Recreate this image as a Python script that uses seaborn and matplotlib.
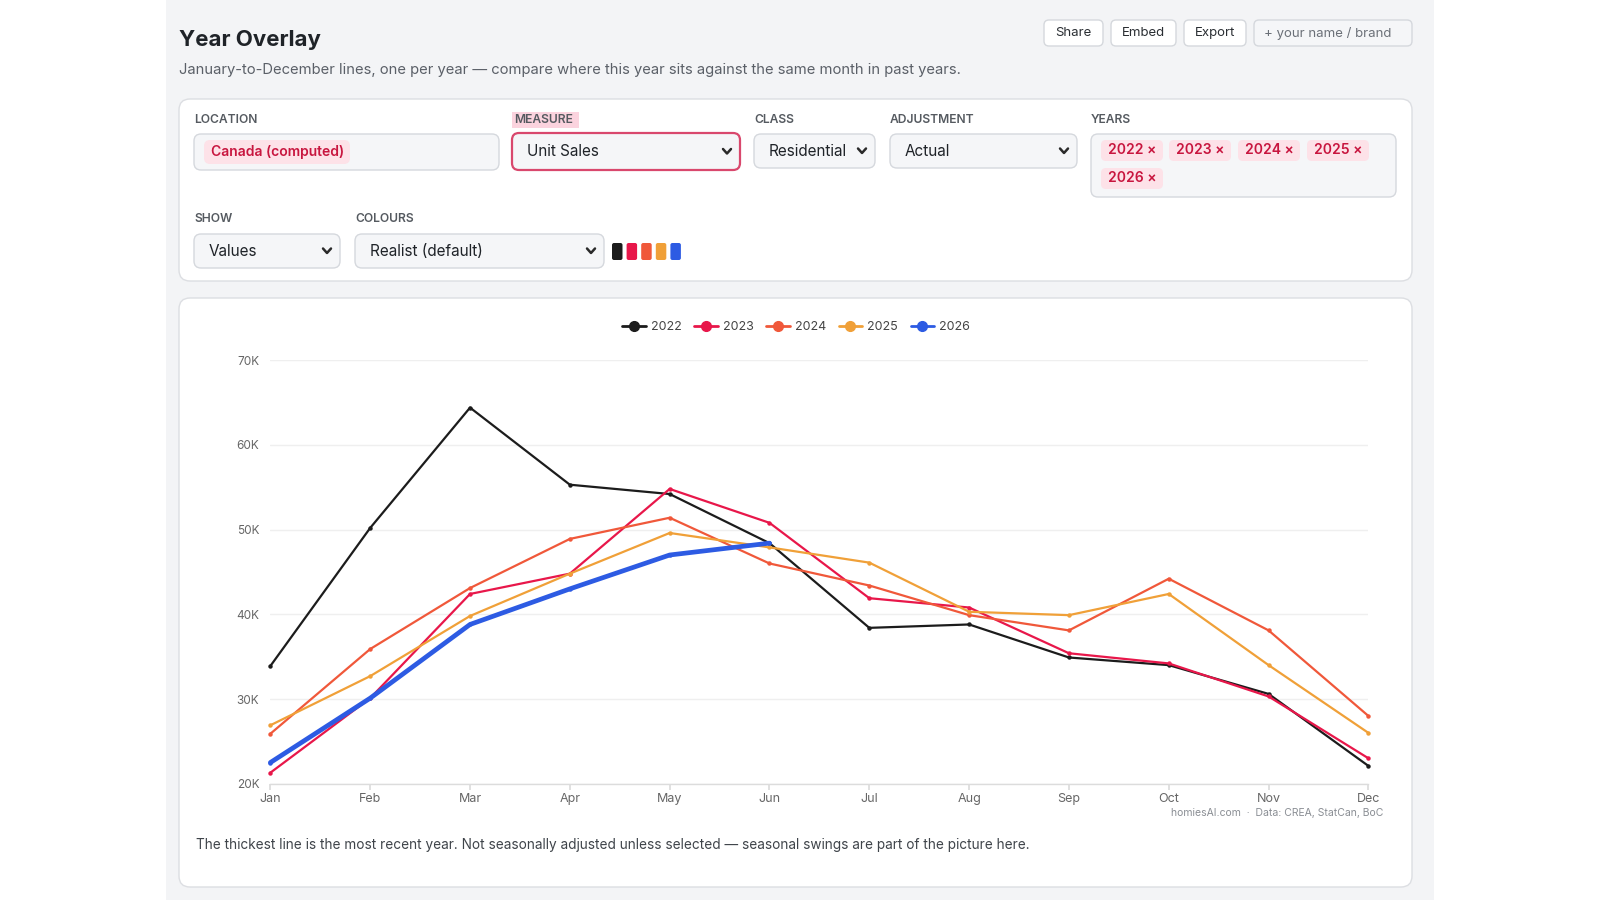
import matplotlib
matplotlib.use("Agg")
import matplotlib.pyplot as plt
import numpy as np
import pandas as pd
import seaborn as sns
from matplotlib.lines import Line2D
from matplotlib.patches import FancyBboxPatch, Rectangle
from matplotlib.ticker import FuncFormatter

# --- data (unit sales, Canada computed, residential, actual) ---
months = ["Jan", "Feb", "Mar", "Apr", "May", "Jun",
          "Jul", "Aug", "Sep", "Oct", "Nov", "Dec"]
years = ["2022", "2023", "2024", "2025", "2026"]
sales_2022 = [33900, 50200, 64400, 55300, 54200, 48400, 38400, 38800, 34900, 34000, 30600, 22100]
sales_2023 = [21300, 30100, 42400, 44800, 54800, 50800, 41900, 40800, 35400, 34200, 30300, 23000]
sales_2024 = [25900, 35900, 43100, 48900, 51400, 46000, 43400, 39900, 38100, 44200, 38100, 28000]
sales_2025 = [26900, 32700, 39800, 44800, 49600, 47900, 46100, 40300, 39900, 42400, 34000, 26000]
sales_2026 = [22500, 30100, 38800, 43000, 47000, 48400]
colors = ["#1c1c1c", "#e8174a", "#f0583a", "#f0a038", "#2d5be3"]
chips = ["2022", "2023", "2024", "2025"]

series = [sales_2022, sales_2023, sales_2024, sales_2025, sales_2026]
df = pd.concat(
    [pd.DataFrame({"month": np.arange(len(v)), "sales": v, "year": y})
     for y, v in zip(years, series)],
    ignore_index=True,
)

sns.set_theme(style="white")
plt.rcParams["font.family"] = ["Inter", "DejaVu Sans"]

fig = plt.figure(figsize=(16, 9), dpi=100)
fig.patch.set_facecolor("white")

# background layer in pixel coords (origin top-left)
bg = fig.add_axes([0, 0, 1, 1])
bg.set_xlim(0, 1600)
bg.set_ylim(900, 0)
bg.axis("off")

INK = "#1f2328"
MUTED = "#5b6068"
CRIMSON = "#c8163f"


def box(x0, y0, x1, y1, fc, ec, r=6, lw=1.0, z=1):
    bg.add_patch(FancyBboxPatch((x0, y0), x1 - x0, y1 - y0,
                                boxstyle=f"round,pad=0,rounding_size={r}",
                                fc=fc, ec=ec, lw=lw, zorder=z))


def chevron(x, y):
    bg.plot([x - 4, x, x + 4], [y - 2.5, y + 2, y - 2.5], color="#2a2a2a",
            lw=1.8, solid_capstyle="round", solid_joinstyle="round", zorder=5)


def select(x0, y0, x1, y1, text, ec="#d5d8dd", lw=1.0):
    box(x0, y0, x1, y1, "#f5f6f8", ec, r=7, lw=lw, z=2)
    bg.text(x0 + 15, (y0 + y1) / 2, text, fontsize=11, color=INK,
            va="center", ha="left", zorder=5)
    chevron(x1 - 13, (y0 + y1) / 2)


def label(x, y, text):
    bg.text(x, y, text, fontsize=8.7, color="#555a60", fontweight="semibold",
            va="center", ha="left", zorder=5)


# page panel
bg.add_patch(Rectangle((166, 0), 1268, 900, fc="#f3f4f6", ec="none", zorder=0))

# header
bg.text(179, 40, "Year Overlay", fontsize=16, fontweight="bold", color=INK,
        va="center", ha="left")
bg.text(179, 70, "January-to-December lines, one per year \u2014 compare where this "
        "year sits against the same month in past years.",
        fontsize=10.65, color=MUTED, va="center", ha="left")

for x0, x1, t in [(1044, 1103, "Share"), (1111, 1176, "Embed"), (1184, 1246, "Export")]:
    box(x0, 20, x1, 46, "white", "#d5d8dd", r=5)
    bg.text((x0 + x1) / 2, 33, t, fontsize=9.5, color="#2a2e33", va="center",
            ha="center", zorder=5)
box(1254, 20, 1412, 46, "#f5f6f8", "#d5d8dd", r=5)
bg.text(1264, 33, "+ your name / brand", fontsize=9.5, color="#6b7078",
        va="center", ha="left", zorder=5)

# controls card
box(179, 99, 1412, 281, "white", "#dcdee2", r=11)

label(194, 120, "LOCATION")
bg.add_patch(Rectangle((512, 112), 67, 16, fc="#fbd3de", ec="none", zorder=3))
label(514, 120, "MEASURE")
label(754, 120, "CLASS")
label(890, 120, "ADJUSTMENT")
label(1091, 120, "YEARS")

box(194, 134, 499, 170, "#f5f6f8", "#d5d8dd", r=7, z=2)
box(204, 140, 350, 164, "#fde2e8", "none", r=6, z=3)
bg.text(211, 152, "Canada (computed)", fontsize=10, color=CRIMSON,
        fontweight="semibold", va="center", ha="left", zorder=5)

select(512, 133, 740, 170, "Unit Sales", ec="#d9486d", lw=1.6)
select(754, 134, 875, 168, "Residential")
select(890, 134, 1077, 168, "Actual")

box(1091, 134, 1396, 197, "#f5f6f8", "#d5d8dd", r=7, z=2)
chip_x = [1101, 1169, 1238, 1307]
for cx, t in zip(chip_x, chips):
    box(cx, 140, cx + 62, 161, "#fde2e8", "none", r=5, z=3)
    bg.text(cx + 7, 150.5, f"{t} \u00d7", fontsize=10, color=CRIMSON,
            fontweight="semibold", va="center", ha="left", zorder=5)
box(1101, 168, 1163, 189, "#fde2e8", "none", r=5, z=3)
bg.text(1108, 178.5, f"{years[-1]} \u00d7", fontsize=10, color=CRIMSON,
        fontweight="semibold", va="center", ha="left", zorder=5)

label(194, 219, "SHOW")
label(355, 219, "COLOURS")
select(194, 234, 340, 268, "Values")
select(355, 234, 604, 268, "Realist (default)")
for i, c in enumerate(colors):
    box(612 + i * 14.6, 243, 622.5 + i * 14.6, 260, c, "none", r=2, z=3)

# chart card
box(179, 298, 1412, 887, "white", "#dcdee2", r=11)

# chart
ax = fig.add_axes([270.4 / 1600, 1 - 783.7 / 900, 1098 / 1600, 423.5 / 900])
ax.set_facecolor("none")
for y, c in zip(years, colors):
    lw = 3.4 if y == years[-1] else 1.6
    sub = df[df["year"] == y]
    sns.lineplot(data=sub, x="month", y="sales", ax=ax, color=c, linewidth=lw,
                 marker="o", markersize=3.2, markeredgewidth=0, clip_on=False,
                 legend=False, zorder=3 if y == years[-1] else 2)

ax.set_xlim(0, 11)
ax.set_ylim(20000, 70000)
ax.set_yticks(np.arange(20000, 70001, 10000))
ax.yaxis.set_major_formatter(FuncFormatter(lambda v, _: f"{int(v / 1000)}K"))
ax.set_xticks(np.arange(12))
ax.set_xticklabels(months)
ax.grid(axis="y", color="#efefef", linewidth=1)
ax.grid(axis="x", visible=False)
for s in ["top", "right", "left"]:
    ax.spines[s].set_visible(False)
ax.spines["bottom"].set_color("#dcdcdc")
ax.spines["bottom"].set_linewidth(1)
ax.tick_params(axis="x", length=4, color="#dcdcdc", labelsize=9, labelcolor="#666",
               pad=3, bottom=True)
ax.tick_params(axis="y", length=0, labelsize=8.5, labelcolor="#666", pad=8)
ax.set_xlabel("")
ax.set_ylabel("")

handles = [Line2D([0], [0], color=c, lw=2, marker="o", markersize=7) for c in colors]
fig.legend(handles, years, loc="center", bbox_to_anchor=(796 / 1600, 1 - 327 / 900),
           ncol=5, frameon=False, fontsize=9, handlelength=1.9, handletextpad=0.4,
           columnspacing=1.0, labelcolor="#444")

bg.text(1383, 813, "homiesAI.com  \u00b7  Data: CREA, StatCan, BoC", fontsize=7.5,
        color="#8a8e94", va="center", ha="right", zorder=5)
bg.text(196, 845, "The thickest line is the most recent year. Not seasonally adjusted "
        "unless selected \u2014 seasonal swings are part of the picture here.",
        fontsize=9.8, color="#3f444a", va="center", ha="left", zorder=5)

fig.savefig("out.png", dpi=100, facecolor=fig.get_facecolor())
